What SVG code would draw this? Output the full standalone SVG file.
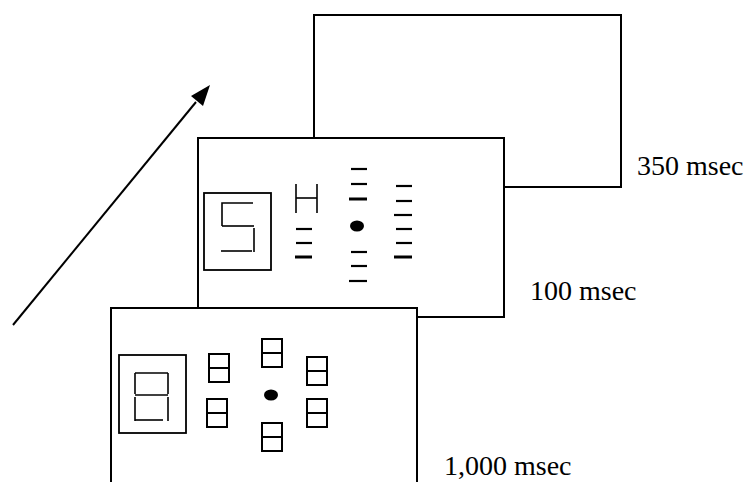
<svg xmlns="http://www.w3.org/2000/svg" width="746" height="482" viewBox="0 0 746 482">
<style>
.frame{fill:#fff;stroke:#000;stroke-width:2}
.box{fill:none;stroke:#000;stroke-width:1.8}
.seg{fill:none;stroke:#000;stroke-width:1.6}
.dash{stroke:#000;stroke-width:2.2;stroke-linecap:butt}
.thick{stroke-width:3}
.s8{fill:none;stroke:#000;stroke-width:2}
.lbl{font-family:"Liberation Serif","Times New Roman",serif;font-size:28px;fill:#000}
</style>
<defs>
<g id="eight">
<rect class="s8" x="0" y="0" width="20" height="28"/>
<line class="s8" x1="0" y1="14" x2="20" y2="14"/>
</g>
</defs>

<g id="connectors">
<line x1="13" y1="325" x2="196" y2="102" stroke="#000" stroke-width="2"/>
<path d="M210,85 L191,96 L203,106 z" fill="#000"/>
</g>

<g id="frame-350">
<rect class="frame" x="314" y="15" width="307" height="172"/>
<text class="lbl" x="637" y="175">350 msec</text>
</g>

<g id="frame-100">
<rect class="frame" x="198" y="138" width="306" height="179"/>
<rect class="box" x="204" y="193" width="67" height="77"/>
<polyline class="seg" points="253,203 222,203 222,226"/>
<line class="seg" x1="222" y1="226" x2="254" y2="226"/>
<line class="seg" x1="254" y1="228" x2="254" y2="252"/>
<line class="seg" x1="221" y1="251" x2="252" y2="251"/>
<g class="seg">
<line x1="296" y1="184" x2="296" y2="213"/>
<line x1="317" y1="184" x2="317" y2="213"/>
<line x1="296" y1="198" x2="317" y2="198"/>
</g>
<line class="dash" x1="296" y1="229" x2="312" y2="229"/>
<line class="dash" x1="296" y1="243" x2="312" y2="243"/>
<line class="dash thick" x1="295" y1="257" x2="312" y2="257"/>
<line class="dash" x1="351" y1="169" x2="367" y2="169"/>
<line class="dash" x1="351" y1="184" x2="367" y2="184"/>
<line class="dash thick" x1="349" y1="199" x2="367" y2="199"/>
<ellipse cx="357" cy="226" rx="7" ry="5.5" fill="#000"/>
<line class="dash" x1="351" y1="252" x2="367" y2="252"/>
<line class="dash" x1="351" y1="266" x2="367" y2="266"/>
<line class="dash" x1="349" y1="281" x2="367" y2="281"/>
<line class="dash" x1="396" y1="186" x2="412" y2="186"/>
<line class="dash" x1="396" y1="201" x2="412" y2="201"/>
<line class="dash" x1="394" y1="215" x2="412" y2="215"/>
<line class="dash" x1="396" y1="229" x2="412" y2="229"/>
<line class="dash" x1="396" y1="243" x2="412" y2="243"/>
<line class="dash thick" x1="394" y1="257" x2="412" y2="257"/>
<text class="lbl" x="530" y="300">100 msec</text>
</g>

<g id="frame-1000">
<rect class="frame" x="111" y="308" width="306" height="200"/>
<rect class="box" x="119" y="355" width="67" height="78"/>
<g class="seg">
<line x1="135" y1="373" x2="168" y2="373"/>
<line x1="135" y1="373" x2="135" y2="394"/>
<line x1="168" y1="373" x2="168" y2="394"/>
<line x1="135" y1="395" x2="168" y2="395"/>
<line x1="135" y1="397" x2="135" y2="421"/>
<line x1="168" y1="397" x2="168" y2="421"/>
<line x1="135" y1="420" x2="163" y2="420"/>
</g>
<use href="#eight" x="209" y="354"/>
<use href="#eight" x="207" y="399"/>
<use href="#eight" x="262" y="339"/>
<ellipse cx="271" cy="395" rx="7" ry="5.5" fill="#000"/>
<use href="#eight" x="262" y="423"/>
<use href="#eight" x="307" y="357"/>
<use href="#eight" x="307" y="399"/>
<text class="lbl" x="444" y="475">1,000 msec</text>
</g>
</svg>
